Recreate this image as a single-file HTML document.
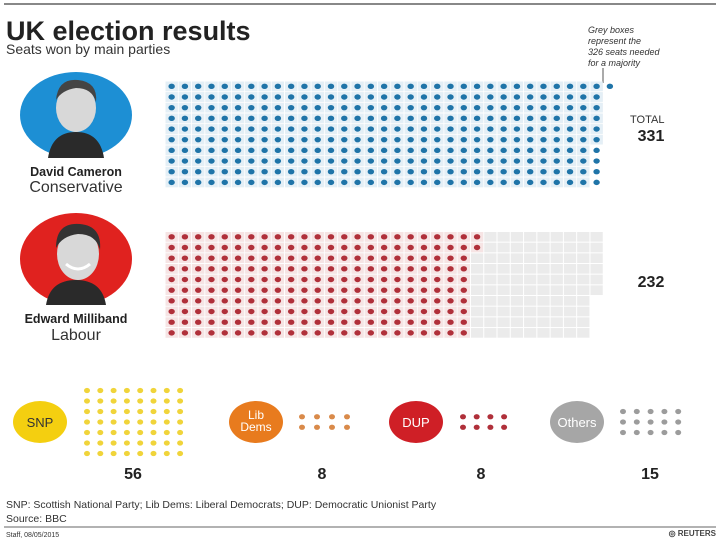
<!DOCTYPE html>
<html><head><meta charset="utf-8"><style>
body{margin:0;background:#fff;}
svg{display:block;font-family:"Liberation Sans",sans-serif;}
</style></head><body>
<svg id="c" width="720" height="540" viewBox="0 0 720 540">
<rect x="0" y="0" width="720" height="540" fill="#fff"/>
<line x1="4" y1="4" x2="716" y2="4" stroke="#888" stroke-width="2"/>
<text x="6" y="40" font-size="27" font-weight="bold" fill="#222">UK election results</text>
<text x="6" y="54" font-size="14" fill="#333">Seats won by main parties</text>
<g font-size="9" font-style="italic" fill="#333">
<text x="588" y="33">Grey boxes</text><text x="588" y="44">represent the</text><text x="588" y="55">326 seats needed</text><text x="588" y="66">for a majority</text></g>
<line x1="603" y1="68" x2="603" y2="83" stroke="#555" stroke-width="1"/>

<g>
<ellipse cx="76" cy="115" rx="56" ry="43" fill="#1d8fd4"/>
<path d="M48 158 Q52 132 76 132 Q100 132 104 158 Z" fill="#2a2a2a"/>
<ellipse cx="76" cy="108" rx="20" ry="24" fill="#d8d8d8"/>
<path d="M56 100 Q58 78 78 80 Q98 82 96 102 Q92 88 76 88 Q62 90 56 100Z" fill="#444"/>
</g>
<text x="76" y="176" font-size="12.5" font-weight="bold" text-anchor="middle" fill="#222">David Cameron</text>
<text x="76" y="192" font-size="16" text-anchor="middle" fill="#333">Conservative</text>

<g>
<ellipse cx="76" cy="259" rx="56" ry="46" fill="#e0221f"/>
<path d="M46 305 Q50 280 76 280 Q102 280 106 305 Z" fill="#2a2a2a"/>
<ellipse cx="78" cy="254" rx="21" ry="26" fill="#d8d8d8"/>
<path d="M56 248 Q56 222 80 224 Q102 226 100 250 Q96 234 78 234 Q62 236 56 248Z" fill="#333"/>
<path d="M66 264 Q78 274 90 264" stroke="#fff" stroke-width="3" fill="none"/>
</g>
<text x="76" y="323" font-size="12.5" font-weight="bold" text-anchor="middle" fill="#222">Edward Milliband</text>
<text x="76" y="340" font-size="16" text-anchor="middle" fill="#333">Labour</text>

<text x="630" y="123" font-size="11" fill="#333">TOTAL</text>
<g id="grids"></g>
<g id="small"></g>

<text x="6" y="508" font-size="10.5" fill="#333">SNP: Scottish National Party; Lib Dems: Liberal Democrats; DUP: Democratic Unionist Party</text>
<text x="6" y="522" font-size="10.5" fill="#333">Source: BBC</text>
<line x1="4" y1="527" x2="716" y2="527" stroke="#666" stroke-width="1"/>
<text x="6" y="537" font-size="7" fill="#333">Staff, 08/05/2015</text>
<text x="716" y="536" font-size="8" font-weight="bold" text-anchor="end" fill="#444">◎ REUTERS</text>
</svg>
<script>
const mainParties = ["Conservative","Labour"];
const mainSeats = [331, 232];
const majority = 326;
const smallParties = ["SNP","Lib Dems","DUP","Others"];
const smallSeats = [56, 8, 8, 15];

const NS="http://www.w3.org/2000/svg";
function mk(tag,attrs,parent){const e=document.createElementNS(NS,tag);for(const k in attrs)e.setAttribute(k,attrs[k]);parent.appendChild(e);return e;}
const grids=document.getElementById('grids');
const ROWS=10, px=13.28, py=10.67, x0=165.5;
const tops=[81.5,232];
const dotCol=["#1f74a8","#b0303a"], cellCol=["#e4eff6","#f6e4e4"];
const totalY=[141,287];
mainParties.forEach((p,i)=>{
  const g=mk('g',{},grids);
  
  
  const y0=tops[i];
  // grey majority boxes column-major but fill pattern: top 6 rows 33 cols, remaining cols
  const colsNeeded=Math.ceil(majority/ROWS);
  for(let k=0;k<majority;k++){
    // fill last column partially from top
    const c=Math.floor(k/ROWS), r=k%ROWS;
    mk('rect',{x:x0+c*px,y:y0+r*py,width:px-1,height:py-1,fill:'#ebebeb'},g);
  }
  const n=mainSeats[i];
  for(let k=0;k<n;k++){
    const c=Math.floor(k/ROWS), r=k%ROWS;
    const cx=x0+c*px+(px-1)/2, cy=y0+r*py+(py-1)/2;
    if(k<majority) mk('rect',{x:x0+c*px,y:y0+r*py,width:px-1,height:py-1,fill:cellCol[i]},g);
    const d=mk('ellipse',{cx:cx,cy:cy,rx:3.2,ry:2.7,fill:dotCol[i]},g);
    
    
  }
  const t=mk('text',{x:651,y:totalY[i],'font-size':16,'font-weight':'bold','text-anchor':'middle',fill:'#222'},grids);
  t.textContent=n;
  
  
});

const small=document.getElementById('small');
const circX=[40,256,416,577], circFill=["#f4cf10","#e87b1e","#cf1f26","#a6a6a6"];
const circText=["#333","#fff","#fff","#fff"];
const sCols=[8,4,4,5], sDotX=[87,302,463,623], sPitch=[13.3,15,13.7,13.8];
const sDotCol=["#f0d43a","#d98a4a","#b0303a","#9c9c9c"], numX=[133,322,481,650];
smallParties.forEach((p,i)=>{
  const g=mk('g',{},small);
  const slug=p.toLowerCase().replace(/ /g,'-');
  
  
  mk('ellipse',{cx:circX[i],cy:422,rx:27,ry:21,fill:circFill[i]},g);
  if(p==="Lib Dems"){
    const a=mk('text',{x:circX[i],y:419,'font-size':12,'text-anchor':'middle',fill:'#fff'},g);a.textContent="Lib";
    const b=mk('text',{x:circX[i],y:431,'font-size':12,'text-anchor':'middle',fill:'#fff'},g);b.textContent="Dems";
  } else {
    const a=mk('text',{x:circX[i],y:427,'font-size':13,'text-anchor':'middle',fill:circText[i]},g);a.textContent=p;
  }
  const n=smallSeats[i], cols=sCols[i], rows=Math.ceil(n/cols);
  const rp=10.5, ytop=422-(rows-1)*rp/2;
  for(let k=0;k<n;k++){
    const r=Math.floor(k/cols), c=k%cols;
    const d=mk('ellipse',{cx:sDotX[i]+c*sPitch[i],cy:ytop+r*rp,rx:3,ry:2.6,fill:sDotCol[i]},g);
    
    
  }
  const t=mk('text',{x:numX[i],y:479,'font-size':16,'font-weight':'bold','text-anchor':'middle',fill:'#222'},g);
  t.textContent=n;
  
  
});
</script>
</body></html>
